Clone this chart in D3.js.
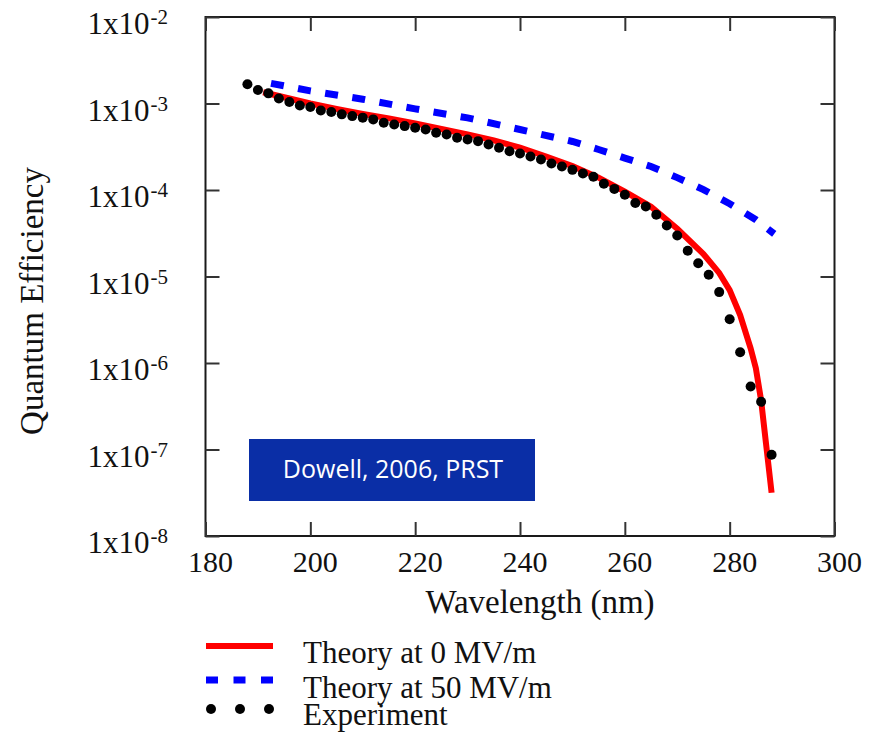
<!DOCTYPE html>
<html>
<head>
<meta charset="utf-8">
<script src="https://cdn.jsdelivr.net/npm/d3@7"></script>
<style>
  body { margin: 0; background: #fff; }
</style>
</head>
<body>
<div id="chart"></div>
<script>
// values
const expWavelength = [188, 190, 192, 194, 196, 198, 200, 202, 204, 206, 208, 210, 212, 214, 216, 218, 220,
    222, 224, 226, 228, 230, 232, 234, 236, 238, 240, 242, 244, 246, 248, 250, 252, 254, 256, 258, 260,
    262, 264, 266, 268, 270, 272, 274, 276, 278, 280, 282, 284, 286, 288];
const expQE = [1.67e-3, 1.43e-3, 1.31e-3, 1.14e-3, 1.04e-3, 9.5e-4, 9.1e-4, 8.3e-4, 7.96e-4, 7.49e-4, 7.15e-4,
    6.86e-4, 6.55e-4, 6.0e-4, 5.73e-4, 5.48e-4, 5.25e-4, 5.01e-4, 4.59e-4, 4.39e-4, 4.02e-4, 3.84e-4, 3.67e-4,
    3.36e-4, 3.08e-4, 2.81e-4, 2.64e-4, 2.44e-4, 2.25e-4, 2.02e-4, 1.87e-4, 1.71e-4, 1.55e-4, 1.42e-4, 1.18e-4,
    1.03e-4, 8.83e-5, 7.07e-5, 6.46e-5, 5.17e-5, 3.89e-5, 2.98e-5, 1.98e-5, 1.42e-5, 1.05e-5, 6.6e-6, 3.21e-6,
    1.33e-6, 5.36e-7, 3.56e-7, 8.71e-8];

const theory0Wavelength = [191, 195, 200, 205, 210, 215, 220, 225, 230, 235, 240, 245, 250, 255, 260, 265,
    270, 275, 278, 280, 282, 284, 285, 286, 288];
const theory0QE = [1.35e-3, 1.18e-3, 1.0e-3, 8.67e-4, 7.59e-4, 6.73e-4, 5.89e-4, 5.08e-4, 4.39e-4, 3.74e-4,
    3.10e-4, 2.44e-4, 1.89e-4, 1.39e-4, 9.56e-5, 6.41e-5, 3.56e-5, 1.82e-5, 1.10e-5, 6.97e-6, 3.58e-6,
    1.48e-6, 8.68e-7, 3.69e-7, 3.16e-8];

const theory50Wavelength = [192.5, 200, 210, 220, 230, 240, 250, 255, 260, 265, 270, 275, 280, 285, 288.5];
const theory50QE = [1.71e-3, 1.40e-3, 1.12e-3, 8.67e-4, 6.82e-4, 5.01e-4, 3.64e-4, 2.94e-4, 2.34e-4,
    1.87e-4, 1.39e-4, 1.01e-4, 6.94e-5, 4.53e-5, 3.11e-5];

const xTicks = [180, 200, 220, 240, 260, 280, 300];
const yTickExponents = [-2, -3, -4, -5, -6, -7, -8];

const legendLabels = ['Theory at 0 MV/m', 'Theory at 50 MV/m', 'Experiment'];
const noteText = 'Dowell, 2006, PRST';

const W = 869, H = 732;
const plot = { left: 205.5, right: 834.5, top: 17, bottom: 536 };
const serif = '"Liberation Serif", "Times New Roman", serif';

const svg = d3.select('#chart').append('svg')
    .attr('width', W)
    .attr('height', H)
    .style('font-family', serif);

const x = d3.scaleLinear().domain([180, 300]).range([plot.left, plot.right]);
const y = d3.scaleLog().domain([1e-8, 1e-2]).range([plot.bottom, plot.top]);

// frame
svg.append('rect')
    .attr('x', plot.left).attr('y', plot.top)
    .attr('width', plot.right - plot.left).attr('height', plot.bottom - plot.top)
    .attr('fill', 'none').attr('stroke', '#1a1a1a').attr('stroke-width', 2);

// inward ticks on all four sides
const tickLen = 14;
const yVals = yTickExponents.map(e => Math.pow(10, e));
const axes = [
    [d3.axisBottom(x).tickValues(xTicks), `translate(0,${plot.bottom})`],
    [d3.axisTop(x).tickValues(xTicks), `translate(0,${plot.top})`],
    [d3.axisLeft(y).tickValues(yVals), `translate(${plot.left},0)`],
    [d3.axisRight(y).tickValues(yVals), `translate(${plot.right},0)`]
];
axes.forEach(([ax, tr]) => {
    const g = svg.append('g').attr('transform', tr)
        .call(ax.tickSize(-tickLen).tickFormat(''));
    g.select('.domain').remove();
    g.selectAll('line').attr('stroke', '#333').attr('stroke-width', 2);
});

// x tick labels
svg.append('g').selectAll('text')
    .data(xTicks)
    .join('text')
    .attr('x', d => x(d) + 5)
    .attr('y', 572)
    .attr('text-anchor', 'middle')
    .attr('font-size', 30)
    .attr('fill', '#111')
    .text(d => d);

// y tick labels 1x10^n
const yLab = svg.append('g').selectAll('text')
    .data(yTickExponents)
    .join('text')
    .attr('x', 168)
    .attr('y', d => y(Math.pow(10, d)) + 17)
    .attr('text-anchor', 'end')
    .attr('font-size', 31)
    .attr('fill', '#111');
yLab.append('tspan').text('1x10');
yLab.append('tspan').attr('font-size', 21).attr('dx', 1).attr('dy', -10).text(d => d);

// axis titles
svg.append('text')
    .attr('x', 540)
    .attr('y', 613)
    .attr('text-anchor', 'middle')
    .attr('font-size', 33)
    .attr('fill', '#111')
    .text('Wavelength (nm)');

svg.append('text')
    .attr('transform', 'translate(43,301) rotate(-90)')
    .attr('text-anchor', 'middle')
    .attr('font-size', 33)
    .attr('fill', '#111')
    .text('Quantum Efficiency');

// series
const line = d3.line().x(d => x(d[0])).y(d => y(d[1]));

svg.append('path')
    .datum(d3.zip(theory0Wavelength, theory0QE))
    .attr('d', line)
    .attr('fill', 'none')
    .attr('stroke', '#ff0000')
    .attr('stroke-width', 6);

svg.append('path')
    .datum(d3.zip(theory50Wavelength, theory50QE))
    .attr('d', line)
    .attr('fill', 'none')
    .attr('stroke', '#0000ff')
    .attr('stroke-width', 7)
    .attr('stroke-dasharray', '13 14.5');

svg.append('g').selectAll('circle')
    .data(d3.zip(expWavelength, expQE))
    .join('circle')
    .attr('cx', d => x(d[0]))
    .attr('cy', d => y(d[1]))
    .attr('r', 5)
    .attr('fill', '#000');

// source note box
svg.append('rect')
    .attr('x', 249).attr('y', 439)
    .attr('width', 286).attr('height', 62)
    .attr('fill', '#0a2ea6');
svg.append('text')
    .attr('x', 393).attr('y', 478)
    .attr('text-anchor', 'middle')
    .style('font-family', '"Open Sans", Lato, sans-serif')
    .attr('font-size', 25)
    .attr('fill', '#fff')
    .text(noteText);

// legend
const leg = svg.append('g');
leg.append('line')
    .attr('x1', 206).attr('x2', 273).attr('y1', 646).attr('y2', 646)
    .attr('stroke', '#ff0000').attr('stroke-width', 6);
leg.append('line')
    .attr('x1', 206).attr('x2', 273).attr('y1', 680).attr('y2', 680)
    .attr('stroke', '#0000ff').attr('stroke-width', 7)
    .attr('stroke-dasharray', '12 15.5');
leg.selectAll('circle')
    .data([211, 240, 269])
    .join('circle')
    .attr('cx', d => d).attr('cy', 709).attr('r', 5).attr('fill', '#000');
leg.selectAll('text')
    .data(legendLabels)
    .join('text')
    .attr('x', 303)
    .attr('y', (d, i) => [663, 698, 725][i])
    .attr('font-size', 31)
    .attr('fill', '#111')
    .text(d => d);
</script>
</body>
</html>
